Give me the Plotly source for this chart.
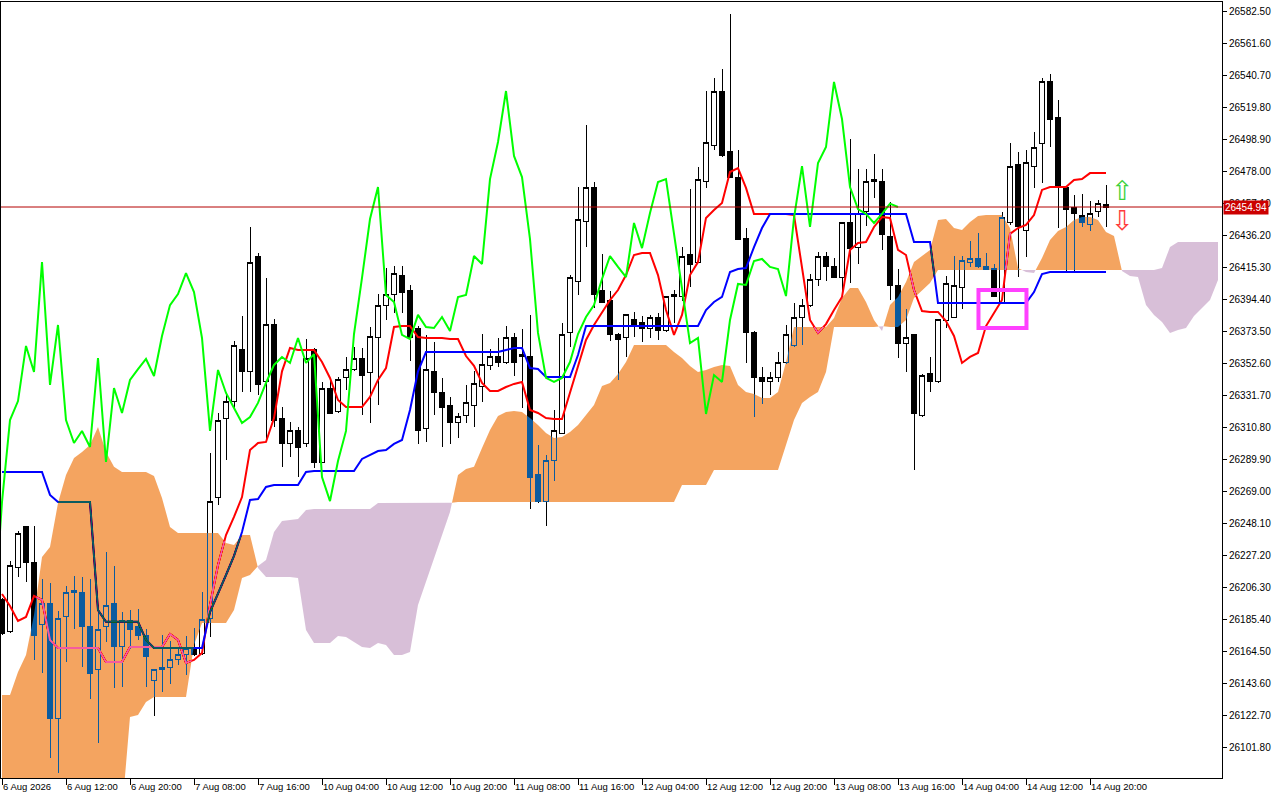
import plotly.graph_objects as go

# ---------------- data ----------------
time_labels = ["6 Aug 2026", "6 Aug 12:00", "6 Aug 20:00", "7 Aug 08:00", "7 Aug 16:00",
               "10 Aug 04:00", "10 Aug 12:00", "10 Aug 20:00", "11 Aug 08:00", "11 Aug 16:00",
               "12 Aug 04:00", "12 Aug 12:00", "12 Aug 20:00", "13 Aug 08:00", "13 Aug 16:00",
               "14 Aug 04:00", "14 Aug 12:00", "14 Aug 20:00"]
label_bars = [0, 8, 16, 24, 32, 40, 48, 56, 64, 72, 80, 88, 96, 104, 112, 120, 128, 136]

price_labels = ["26582.50", "26561.60", "26540.70", "26519.80", "26498.90", "26478.00",
                "26457.10", "26436.20", "26415.30", "26394.40", "26373.50", "26352.60",
                "26331.70", "26310.80", "26289.90", "26269.00", "26248.10", "26227.20",
                "26206.30", "26185.40", "26164.50", "26143.60", "26122.70", "26101.80"]

opens = [26198.3, 26177.4, 26219.8, 26246.0, 26223.1, 26182.6, 26196.3, 26120.6, 26187.2, 26204.2,
         26202.9, 26181.3, 26152.6, 26180.7, 26196.3, 26168.2, 26184.6, 26181.3, 26175.4, 26146.0,
         26152.6, 26154.5, 26159.1, 26163.0, 26166.3, 26163.6, 26186.0, 26264.9, 26317.1, 26327.6,
         26362.2, 26347.8, 26422.3, 26340.7, 26377.9, 26317.1, 26300.8, 26309.3, 26300.2, 26362.2,
         26288.4, 26336.7, 26321.1, 26343.3, 26349.1, 26356.3, 26346.6, 26370.0, 26390.9, 26398.1,
         26410.5, 26400.7, 26375.9, 26310.6, 26347.6, 26334.1, 26325.0, 26314.5, 26319.1, 26325.0,
         26338.0, 26351.2, 26357.6, 26353.1, 26369.4, 26357.0, 26357.0, 26280.5, 26262.9, 26289.1,
         26307.3, 26372.7, 26406.6, 26445.8, 26468.0, 26400.1, 26394.2, 26372.0, 26369.4, 26381.8,
         26379.2, 26375.9, 26383.1, 26374.0, 26396.2, 26396.8, 26424.2, 26419.0, 26471.9, 26494.8,
         26530.7, 26490.9, 26474.5, 26434.7, 26373.3, 26343.3, 26340.7, 26343.3, 26353.7, 26364.8,
         26383.1, 26390.9, 26407.9, 26422.9, 26416.4, 26409.2, 26444.5, 26428.8, 26451.7, 26471.9,
         26471.3, 26436.0, 26404.0, 26366.1, 26371.4, 26318.5, 26345.9, 26340.7, 26380.5, 26383.1,
         26402.7, 26418.4, 26421.0, 26416.4, 26415.1, 26392.2, 26445.1, 26483.0, 26439.9, 26481.7,
         26496.1, 26536.6, 26513.1, 26467.4, 26454.3, 26449.7, 26443.2, 26451.7, 26456.9]

highs = [26199.6, 26223.8, 26243.3, 26246.6, 26246.6, 26212.0, 26209.4, 26191.1, 26207.4, 26214.0,
         26213.3, 26212.0, 26189.8, 26229.6, 26220.5, 26190.4, 26191.8, 26192.4, 26179.3, 26152.6,
         26175.4, 26171.5, 26167.6, 26174.8, 26180.0, 26203.5, 26294.3, 26320.4, 26333.5, 26367.4,
         26383.8, 26441.9, 26424.9, 26408.6, 26381.8, 26324.3, 26314.5, 26311.3, 26368.7, 26362.9,
         26340.7, 26341.3, 26343.9, 26357.0, 26363.5, 26362.9, 26376.6, 26398.1, 26415.1, 26416.4,
         26416.4, 26403.9, 26377.2, 26371.4, 26366.8, 26343.3, 26330.9, 26320.4, 26338.7, 26347.6,
         26372.0, 26362.2, 26369.4, 26377.2, 26372.7, 26375.3, 26384.5, 26299.5, 26293.0, 26322.4,
         26379.2, 26410.5, 26468.0, 26508.5, 26471.3, 26424.2, 26400.1, 26372.7, 26384.5, 26386.4,
         26383.8, 26384.5, 26385.7, 26396.8, 26400.7, 26428.8, 26466.7, 26481.1, 26530.7, 26539.2,
         26545.1, 26581.0, 26492.2, 26441.2, 26374.0, 26350.5, 26347.2, 26360.2, 26377.9, 26392.2,
         26394.8, 26411.2, 26425.5, 26425.5, 26421.6, 26445.1, 26499.4, 26479.8, 26479.8, 26489.6,
         26479.8, 26458.2, 26414.4, 26388.3, 26372.0, 26345.9, 26357.0, 26381.8, 26409.9, 26422.9,
         26422.9, 26432.7, 26437.9, 26424.9, 26417.7, 26451.7, 26496.8, 26490.9, 26492.2, 26503.9,
         26539.2, 26541.8, 26524.8, 26468.0, 26462.8, 26463.4, 26458.9, 26459.5, 26469.3]

lows = [26175.4, 26176.7, 26213.3, 26210.0, 26159.1, 26150.6, 26095.1, 26085.3, 26157.8, 26179.3,
        26154.5, 26133.6, 26104.9, 26170.9, 26140.8, 26141.5, 26166.3, 26172.2, 26141.5, 26122.5,
        26138.2, 26143.4, 26155.8, 26149.3, 26161.7, 26162.4, 26174.1, 26260.3, 26289.7, 26322.4,
        26334.1, 26334.1, 26332.2, 26302.8, 26311.3, 26285.1, 26291.7, 26278.6, 26298.2, 26284.5,
        26287.8, 26319.8, 26320.4, 26335.4, 26347.6, 26319.1, 26313.9, 26325.6, 26381.2, 26385.7,
        26385.7, 26354.4, 26300.2, 26301.5, 26319.1, 26298.2, 26300.2, 26304.0, 26313.9, 26311.3,
        26327.6, 26348.5, 26350.5, 26352.4, 26344.6, 26323.7, 26257.7, 26261.6, 26246.6, 26276.0,
        26306.7, 26363.5, 26397.5, 26428.8, 26389.0, 26392.2, 26367.4, 26342.0, 26357.0, 26370.0,
        26366.8, 26369.4, 26368.1, 26373.3, 26379.2, 26393.6, 26402.7, 26418.4, 26467.4, 26492.2,
        26487.6, 26473.9, 26433.4, 26353.1, 26317.8, 26326.3, 26332.2, 26340.7, 26352.4, 26363.5,
        26364.8, 26389.6, 26403.4, 26406.6, 26408.6, 26399.4, 26405.3, 26417.7, 26442.5, 26460.8,
        26426.9, 26394.2, 26356.3, 26347.2, 26283.2, 26317.8, 26334.1, 26340.0, 26375.9, 26382.5,
        26388.3, 26415.8, 26415.1, 26413.8, 26396.2, 26391.6, 26443.2, 26409.2, 26422.3, 26467.4,
        26470.6, 26494.1, 26441.2, 26412.5, 26412.5, 26441.9, 26439.3, 26448.4, 26441.9]

closes = [26176.7, 26220.5, 26242.0, 26223.1, 26175.4, 26195.7, 26120.6, 26186.5, 26203.5, 26202.9,
          26180.7, 26150.6, 26179.3, 26195.0, 26168.2, 26184.6, 26179.3, 26175.4, 26161.7, 26152.6,
          26154.5, 26159.1, 26163.0, 26166.3, 26163.0, 26185.3, 26262.3, 26315.8, 26328.2, 26364.2,
          26347.2, 26419.0, 26338.7, 26377.9, 26315.8, 26300.8, 26308.7, 26298.2, 26356.3, 26288.4,
          26336.7, 26320.4, 26342.0, 26349.1, 26355.7, 26344.6, 26370.7, 26390.9, 26398.1, 26411.8,
          26399.4, 26369.4, 26308.7, 26348.5, 26333.5, 26323.7, 26313.9, 26317.8, 26327.0, 26340.0,
          26351.8, 26357.0, 26353.1, 26369.4, 26353.1, 26358.9, 26278.6, 26262.9, 26289.1, 26308.7,
          26372.0, 26408.6, 26447.1, 26468.0, 26397.5, 26392.9, 26371.4, 26368.7, 26384.5, 26376.6,
          26375.9, 26383.1, 26374.0, 26396.2, 26397.5, 26422.9, 26417.7, 26473.2, 26497.4, 26530.7,
          26488.3, 26474.5, 26434.0, 26372.7, 26343.3, 26340.7, 26343.3, 26353.7, 26372.0, 26383.1,
          26390.9, 26407.9, 26422.9, 26415.8, 26409.2, 26444.5, 26428.1, 26451.0, 26471.3, 26473.2,
          26437.3, 26404.0, 26366.1, 26369.4, 26319.8, 26345.2, 26340.7, 26381.2, 26404.7, 26404.0,
          26419.7, 26421.0, 26415.8, 26414.4, 26396.8, 26447.8, 26481.7, 26441.9, 26483.7, 26494.1,
          26536.6, 26512.4, 26468.0, 26453.6, 26450.4, 26444.5, 26450.4, 26457.1, 26454.94]

tenkan = [26202.2, 26194.4, 26184.6, 26187.2, 26200.9, 26198.3, 26172.2, 26166.9, 26166.9, 26166.9,
          26166.9, 26166.9, 26166.9, 26157.8, 26157.8, 26157.8, 26167.6, 26167.6, 26167.6, 26167.6,
          26167.6, 26176.1, 26172.2, 26157.1, 26159.1, 26163.6, 26195.0, 26221.1, 26240.7, 26252.5,
          26265.5, 26296.2, 26300.8, 26301.5, 26317.1, 26347.6, 26362.9, 26361.6, 26361.6, 26361.6,
          26353.7, 26343.3, 26328.9, 26324.3, 26324.3, 26324.3, 26330.9, 26342.0, 26349.8, 26376.6,
          26377.2, 26377.2, 26370.0, 26369.4, 26369.4, 26369.4, 26368.7, 26368.7, 26357.6, 26351.2,
          26340.0, 26334.8, 26334.8, 26337.4, 26339.4, 26340.7, 26322.4, 26320.4, 26317.1, 26316.5,
          26316.5, 26334.1, 26351.8, 26368.1, 26377.9, 26385.7, 26394.2, 26400.7, 26410.5, 26423.6,
          26424.9, 26424.9, 26410.5, 26387.7, 26371.4, 26384.5, 26410.5, 26419.0, 26447.8, 26453.0,
          26457.6, 26477.8, 26480.4, 26467.4, 26450.4, 26450.4, 26450.4, 26450.4, 26450.4, 26449.7,
          26415.8, 26381.2, 26372.7, 26378.5, 26387.7, 26396.2, 26426.9, 26431.4, 26432.1, 26441.9,
          26448.4, 26447.8, 26426.9, 26423.6, 26400.7, 26387.0, 26386.4, 26386.4, 26380.5, 26370.7,
          26353.1, 26357.0, 26359.6, 26377.2, 26385.7, 26394.2, 26437.4, 26441.2, 26443.2, 26449.7,
          26466.1, 26468.0, 26468.0, 26468.0, 26472.6, 26473.2, 26477.1, 26477.1, 26477.1]

kijun = [26281.9, 26281.9, 26281.9, 26281.9, 26281.9, 26281.9, 26266.9, 26262.3, 26262.3, 26262.3,
         26262.3, 26262.3, 26191.7, 26184.0, 26184.0, 26184.0, 26184.0, 26184.0, 26172.2, 26166.9,
         26166.9, 26166.9, 26166.9, 26166.9, 26166.9, 26166.9, 26190.4, 26202.2, 26214.6, 26227.1,
         26242.7, 26263.6, 26264.2, 26272.1, 26273.4, 26273.4, 26273.4, 26273.4, 26281.9, 26282.5,
         26282.5, 26282.5, 26282.5, 26282.5, 26282.5, 26290.4, 26293.0, 26295.6, 26296.2, 26300.2,
         26302.8, 26322.4, 26347.6, 26360.2, 26360.2, 26360.2, 26360.2, 26360.2, 26360.2, 26360.2,
         26360.2, 26360.2, 26360.2, 26361.6, 26362.9, 26362.9, 26349.8, 26349.1, 26343.9, 26343.9,
         26343.9, 26343.9, 26358.3, 26377.2, 26377.2, 26377.2, 26377.2, 26377.2, 26377.2, 26377.2,
         26377.2, 26377.2, 26377.2, 26377.2, 26377.2, 26377.2, 26377.2, 26377.2, 26387.7, 26392.9,
         26396.2, 26412.5, 26414.4, 26415.1, 26428.8, 26441.2, 26450.4, 26450.4, 26450.4, 26450.4,
         26450.4, 26450.4, 26450.4, 26450.4, 26450.4, 26450.4, 26450.4, 26450.4, 26450.4, 26450.4,
         26450.4, 26450.4, 26450.4, 26450.4, 26432.1, 26432.1, 26432.1, 26392.2, 26392.2, 26392.2,
         26392.2, 26392.2, 26392.2, 26392.2, 26392.2, 26392.2, 26392.2, 26392.2, 26392.2, 26399.4,
         26411.2, 26412.5, 26412.5, 26412.5, 26412.5, 26412.5, 26412.5, 26412.5, 26412.5]

senkou_a = [26136.2, 26136.2, 26151.3, 26162.4, 26188.5, 26226.4, 26232.9, 26261.6, 26279.9, 26291.0,
            26294.9, 26299.5, 26311.3, 26294.9, 26285.3, 26281.9, 26281.9, 26281.9, 26281.9, 26279.3,
            26264.9, 26246.0, 26242.0, 26242.0, 26242.0, 26242.0, 26242.0, 26242.0, 26235.5, 26234.2,
            26240.7, 26240.7, 26219.2, 26213.3, 26213.3, 26213.3, 26213.3, 26212.6, 26178.7, 26170.2,
            26170.2, 26170.2, 26174.8, 26174.1, 26170.9, 26167.6, 26166.9, 26170.2, 26168.9, 26162.4,
            26162.4, 26164.4, 26195.0, 26210.0, 26224.4, 26240.7, 26255.8, 26279.9, 26283.8, 26285.3,
            26297.6, 26309.3, 26318.5, 26321.1, 26321.7, 26321.1, 26317.1, 26312.6, 26307.3, 26304.1,
            26304.7, 26308.0, 26312.6, 26319.1, 26325.6, 26338.0, 26340.0, 26345.9, 26353.7, 26364.8,
            26364.8, 26364.8, 26364.8, 26364.8, 26360.2, 26356.3, 26351.1, 26347.2, 26348.5, 26350.5,
            26351.8, 26351.1, 26338.7, 26334.1, 26332.8, 26330.2, 26330.2, 26334.1, 26353.7, 26376.6,
            26376.6, 26376.6, 26376.6, 26376.6, 26382.5, 26395.5, 26402.0, 26402.0, 26392.9, 26381.2,
            26373.9, 26390.9, 26396.2, 26406.0, 26419.0, 26422.9, 26426.9, 26446.5, 26447.1, 26441.2,
            26439.9, 26445.1, 26449.1, 26449.7, 26449.7, 26449.7, 26441.2, 26415.1, 26412.5, 26411.8,
            26421.6, 26433.4, 26439.3, 26441.9, 26446.5, 26448.4, 26448.4, 26446.5, 26438.6, 26436.0,
            26413.1, 26409.9, 26409.2, 26390.9, 26384.4, 26379.8, 26372.7, 26374.6, 26375.9, 26383.8,
            26389.0, 26394.2, 26407.3]

senkou_b = [26060.0, 26060.0, 26060.0, 26060.0, 26060.0, 26060.0, 26060.0, 26060.0, 26060.0, 26060.0,
            26060.0, 26060.0, 26060.0, 26060.0, 26060.0, 26060.0, 26121.9, 26123.2, 26131.7, 26134.9,
            26134.9, 26134.9, 26134.9, 26134.9, 26168.9, 26183.3, 26183.3, 26183.3, 26183.3, 26191.7,
            26212.6, 26214.6, 26220.5, 26224.4, 26242.7, 26249.9, 26250.5, 26251.2, 26257.1, 26257.7,
            26257.7, 26257.7, 26257.7, 26257.7, 26257.7, 26257.7, 26257.7, 26261.6, 26261.6, 26261.6,
            26261.6, 26261.6, 26261.6, 26261.6, 26261.6, 26261.6, 26261.6, 26262.3, 26262.3, 26262.3,
            26262.3, 26262.3, 26262.3, 26262.3, 26262.3, 26262.3, 26262.3, 26262.3, 26262.3, 26262.3,
            26262.3, 26262.3, 26262.3, 26262.3, 26262.3, 26262.3, 26262.3, 26262.3, 26262.3, 26262.3,
            26262.3, 26262.3, 26262.3, 26262.3, 26262.3, 26273.4, 26273.4, 26273.4, 26273.4, 26283.2,
            26283.2, 26283.2, 26283.2, 26283.2, 26283.2, 26283.2, 26283.2, 26283.2, 26299.5, 26315.8,
            26326.9, 26330.9, 26334.1, 26347.2, 26376.6, 26376.6, 26376.6, 26376.6, 26376.6, 26376.6,
            26377.2, 26376.6, 26376.6, 26381.2, 26395.5, 26400.7, 26405.3, 26413.8, 26413.8, 26413.8,
            26413.8, 26413.8, 26413.8, 26413.8, 26413.8, 26413.8, 26413.8, 26413.8, 26413.8, 26413.8,
            26413.8, 26413.8, 26413.8, 26413.8, 26413.8, 26413.8, 26413.8, 26413.8, 26413.8, 26413.8,
            26413.8, 26413.8, 26413.8, 26413.8, 26413.8, 26415.1, 26428.8, 26432.1, 26432.1, 26432.1,
            26432.1, 26432.1, 26432.1]

chikou_shift = 26
last_price = 26454.94
signal_box = dict(x0=122.06, x1=128.06, y0=26375.9, y1=26400.7)
arrow_bar = 140
arrow_up_price = 26465.5
arrow_down_price = 26446.0

# ---------------- figure ----------------
bars = list(range(len(closes)))
ORANGE = "rgb(244,164,96)"
THISTLE = "rgb(216,191,216)"

fig = go.Figure()

# white backdrop inside the plot group (needed for the XOR-like cloud blend)
fig.add_trace(go.Bar(x=[76], y=[1000], base=[25800], width=[400],
                     marker=dict(color="white", line=dict(width=0)),
                     hoverinfo="skip", showlegend=False))

fig.add_trace(go.Candlestick(
    x=bars, open=opens, high=highs, low=lows, close=closes,
    increasing=dict(line=dict(color="black", width=1), fillcolor="white"),
    decreasing=dict(line=dict(color="black", width=1), fillcolor="black"),
    whiskerwidth=0, hoverinfo="skip", showlegend=False))

fig.add_trace(go.Scatter(x=bars, y=tenkan, mode="lines",
                         line=dict(color="#FF0000", width=2), hoverinfo="skip"))
fig.add_trace(go.Scatter(x=bars, y=kijun, mode="lines",
                         line=dict(color="#0000FF", width=2), hoverinfo="skip"))

# cloud runs split where span A and span B cross
def cloud_runs(a, b):
    runs = []
    cur = None
    for i in range(len(a)):
        s = a[i] >= b[i]
        hi, lo = max(a[i], b[i]), min(a[i], b[i])
        if cur is None:
            cur = dict(s=s, x=[i], hi=[hi], lo=[lo])
        elif s == cur["s"]:
            cur["x"].append(i); cur["hi"].append(hi); cur["lo"].append(lo)
        else:
            d0 = a[i - 1] - b[i - 1]
            d1 = a[i] - b[i]
            t = d0 / (d0 - d1)
            xc = i - 1 + t
            yc = a[i - 1] + t * (a[i] - a[i - 1])
            cur["x"].append(xc); cur["hi"].append(yc); cur["lo"].append(yc)
            runs.append(cur)
            cur = dict(s=s, x=[xc, i], hi=[yc, hi], lo=[yc, lo])
    runs.append(cur)
    return runs

for r in cloud_runs(senkou_a, senkou_b):
    col = ORANGE if r["s"] else THISTLE
    fig.add_trace(go.Scatter(x=r["x"] + r["x"][::-1], y=r["hi"] + r["lo"][::-1],
                             mode="lines", fill="toself", fillcolor=col,
                             line=dict(width=0, color=col), hoverinfo="skip"))

fig.add_trace(go.Scatter(x=[i - chikou_shift for i in bars], y=closes, mode="lines",
                         line=dict(color="#00FF00", width=2), hoverinfo="skip"))

fig.add_shape(type="line", xref="paper", x0=0, x1=1, yref="y", y0=last_price, y1=last_price,
              line=dict(color="#B40000", width=1))
fig.add_shape(type="rect", xref="x", yref="y", **signal_box,
              line=dict(color="#FF40FF", width=4))

fig.add_annotation(xref="paper", x=1, xanchor="left", xshift=1, yref="y", y=last_price,
                   text=f"{last_price:.2f}", showarrow=False, bgcolor="#CC0000",
                   font=dict(color="white", size=10, family="Liberation Sans"),
                   width=44, height=13, borderpad=0)
fig.add_annotation(x=arrow_bar, y=arrow_up_price, text="\u21e7", showarrow=False,
                   font=dict(color="#3CD23C", size=27, family="DejaVu Sans"))
fig.add_annotation(x=arrow_bar, y=arrow_down_price, text="\u21e9", showarrow=False,
                   font=dict(color="#FF3C3C", size=27, family="DejaVu Sans"))

fig.update_layout(
    width=1280, height=800,
    margin=dict(l=1, r=58, t=2, b=22, autoexpand=False),
    paper_bgcolor="white", plot_bgcolor="white",
    showlegend=False, hovermode=False,
    boxgap=0.25, boxgroupgap=0.17,
    font=dict(family="Liberation Sans", size=10, color="black"),
    xaxis=dict(range=[-0.125, 152.5], tickmode="array", tickvals=label_bars, ticktext=time_labels,
               showgrid=False, zeroline=False, showline=True, linecolor="black", linewidth=1,
               mirror=True, ticks="outside", ticklen=6, tickcolor="black", tickangle=0,
               automargin=False, ticklabelposition="outside right",
               rangeslider=dict(visible=False), tickfont=dict(size=9.5)),
    yaxis=dict(range=[26082.03, 26588.83], side="right", tickmode="array",
               tickvals=[float(v) for v in price_labels], ticktext=price_labels,
               showgrid=False, zeroline=False, showline=True, linecolor="black", linewidth=1,
               mirror=True, ticks="outside", ticklen=4, tickcolor="black", automargin=False,
               tickfont=dict(size=10)),
)

post_js = """
document.body.style.margin = '0';
document.body.style.overflow = 'hidden';
var gd = document.getElementById('{plot_id}');
function xorCloud(){
  gd.querySelectorAll('.boxlayer path').forEach(function(p){ p.style.shapeRendering = 'crispEdges'; });
  var paths = gd.querySelectorAll('.scatterlayer path.js-fill');
  paths.forEach(function(p){
    var f = (p.style.fill || '').replace(/\\s/g, '');
    if (f === 'rgb(244,164,96)') { p.style.fill = 'rgb(11,91,159)'; p.style.mixBlendMode = 'difference'; }
    else if (f === 'rgb(216,191,216)') { p.style.fill = 'rgb(39,64,39)'; p.style.mixBlendMode = 'difference'; }
  });
}
xorCloud();
gd.on('plotly_afterplot', xorCloud);
"""

fig.write_html("out.html", config={"displayModeBar": False}, post_script=post_js)
